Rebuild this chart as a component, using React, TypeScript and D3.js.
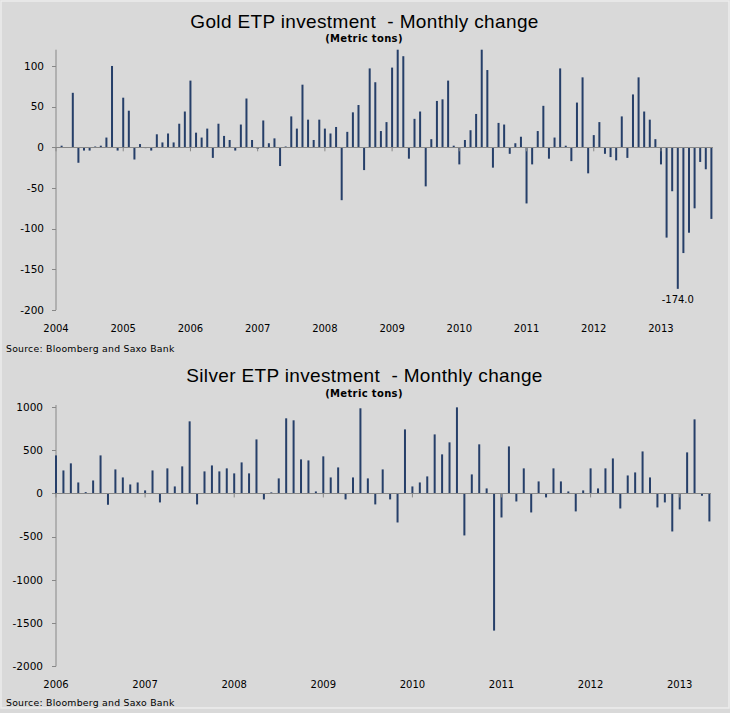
import React from "react";
import * as d3 from "d3";

// ---------- DATA ----------
const goldYears = ["2004", "2005", "2006", "2007", "2008", "2009", "2010", "2011", "2012", "2013"];
// Monthly change, Jan 2004 .. Oct 2013 (metric tons)
const goldValues = [
  0, 2, 0, 67, -19, -4, -4, 1, 2, 12, 100, -4,
  61, 45, -15, 4, -1, -4, 16, 6, 17, 6, 29, 44,
  82, 18, 12, 23, -13, 29, 14, 9, -4, 28, 60, 9,
  -2, 33, 5, 11, -23, 1, 38, 23, 77, 34, 9, 34,
  23, 17, 25, -65, 19, 43, 52, -28, 97, 80, 20, 31,
  98, 125, 112, -14, 35, 44, -48, 10, 57, 59, 82, 2,
  -21, 9, 21, 41, 125, 95, -25, 30, 28, -8, 5, 13,
  -69, -21, 20, 51, -14, 12, 97, 2, -17, 55, 86, -32,
  15, 31, -8, -12, -16, 38, -13, 65, 86, 44, 34, 10,
  -21, -111, -54, -174, -130, -105, -75, -18, -27, -88,
];
const goldTicks = [-200, -150, -100, -50, 0, 50, 100];

const silverYears = ["2006", "2007", "2008", "2009", "2010", "2011", "2012", "2013"];
// Monthly change, Jan 2006 .. May 2013 (metric tons)
const silverValues = [
  440, 266, 348, 127, 15, 150, 440, -131, 278, 185, 104, 127,
  35, 266, -104, 290, 81, 313, 834, -127, 255, 324, 255, 290,
  232, 359, 232, 625, -69, 12, 174, 869, 846, 394, 382, 23,
  429, 185, 301, -69, 185, 985, 174, -127, 278, -69, -336, 741,
  81, 127, 197, 683, 452, 591, 996, -486, 220, 568, 58, -1587,
  -278, 544, -93, 290, -220, 139, -46, 290, 139, 23, -208, 35,
  290, 58, 290, 405, -174, 208, 243, 486, 185, -162, -104, -440,
  -185, 475, 857, -27, -324,
];
const silverTicks = [-2000, -1500, -1000, -500, 0, 500, 1000];

const BAR = "#263f69";
const AXIS = "#878787";
const BG = "#d9d9d9";

type PanelProps = {
  title: string;
  values: number[];
  years: string[];
  yTicks: number[];
  yDomain: [number, number];
  yRange: [number, number];
  xEnd: number;
  axisEnd: number;
  axisTop: number;
  titleY: number;
  subY: number;
  xLabelY: number;
  sourceY: number;
  yLabelX: number;
  annotate?: { index: number; text: string };
};

function Panel(p: PanelProps) {
  const x = d3.scaleLinear().domain([0, p.values.length - 1]).range([56, p.xEnd]);
  const y = d3.scaleLinear().domain(p.yDomain).range(p.yRange).clamp(true);
  const y0 = y(0);
  const font = "'DejaVu Sans', Verdana, sans-serif";
  return (
    <g>
      <text
        x={364.5}
        y={p.titleY}
        textAnchor="middle"
        fontFamily="'Liberation Sans', Arial, sans-serif"
        fontSize={19}
        letterSpacing={0.35}
        style={{ whiteSpace: "pre" }}
        fill="#000"
      >
        {p.title}
      </text>
      <text x={364} y={p.subY} textAnchor="middle" fontFamily={font} fontWeight="bold" fontSize={10} letterSpacing={0.35} fill="#000">
        (Metric tons)
      </text>
      {/* y axis */}
      <line x1={56} x2={56} y1={p.axisTop} y2={y(p.yDomain[0])} stroke={AXIS} strokeWidth={1} />
      {p.yTicks.map((t) => (
        <g key={t}>
          <line x1={52} x2={56} y1={Math.round(y(t)) + 0.5} y2={Math.round(y(t)) + 0.5} stroke={AXIS} />
          <text x={p.yLabelX} y={y(t)} dy="0.35em" textAnchor="end" fontFamily={font} fontSize={10.5} fill="#000">
            {t}
          </text>
        </g>
      ))}
      {/* bars */}
      {p.values.map((v, i) => {
        const top = Math.min(y(v), y0);
        const h = Math.abs(y(v) - y0);
        return <rect key={i} x={x(i) - 1} y={top} width={2} height={h} fill={BAR} />;
      })}
      {/* x axis */}
      <line x1={56} x2={p.axisEnd} y1={Math.round(y0) + 0.5} y2={Math.round(y0) + 0.5} stroke={AXIS} />
      {p.years.map((yr, k) => (
        <g key={yr}>
          <line x1={x(k * 12)} x2={x(k * 12)} y1={y0} y2={y0 + 4} stroke={AXIS} />
          <text x={x(k * 12)} y={p.xLabelY} dy="0.35em" textAnchor="middle" fontFamily={font} fontSize={10} fill="#000">
            {yr}
          </text>
        </g>
      ))}
      {p.annotate && (
        <text
          x={x(p.annotate.index)}
          y={y(p.values[p.annotate.index]) + 11}
          dy="0.35em"
          textAnchor="middle"
          fontFamily={font}
          fontSize={10}
          fill="#000"
        >
          {p.annotate.text}
        </text>
      )}
      <text x={6} y={p.sourceY} dy="0.35em" fontFamily={font} fontSize={9.3} letterSpacing={0.25} fill="#000">
        Source: Bloomberg and Saxo Bank
      </text>
    </g>
  );
}

export default function App() {
  return (
    <svg
      width={730}
      height={713}
      style={{ position: "absolute", left: 0, top: 0, display: "block" }}
    >
      <rect x={0} y={0} width={730} height={713} fill={BG} />
      <rect x={1} y={1} width={728} height={707} fill="none" stroke="#ececec" strokeWidth={1.5} />
      <Panel
        title="Gold ETP investment  - Monthly change"
        values={goldValues}
        years={goldYears}
        yTicks={goldTicks}
        yDomain={[-200, 120]}
        yRange={[310, 49.7]}
        xEnd={711.4}
        axisEnd={713}
        axisTop={49.7}
        titleY={27.5}
        subY={41.5}
        xLabelY={328.3}
        sourceY={348.3}
        yLabelX={44}
        annotate={{ index: 111, text: "-174.0" }}
      />
      <Panel
        title="Silver ETP investment  - Monthly change"
        values={silverValues}
        years={silverYears}
        yTicks={silverTicks}
        yDomain={[-2000, 1000]}
        yRange={[666.3, 407]}
        xEnd={709.4}
        axisEnd={711}
        axisTop={405}
        titleY={381.5}
        subY={396.5}
        xLabelY={684}
        sourceY={702.7}
        yLabelX={43}
      />
    </svg>
  );
}
